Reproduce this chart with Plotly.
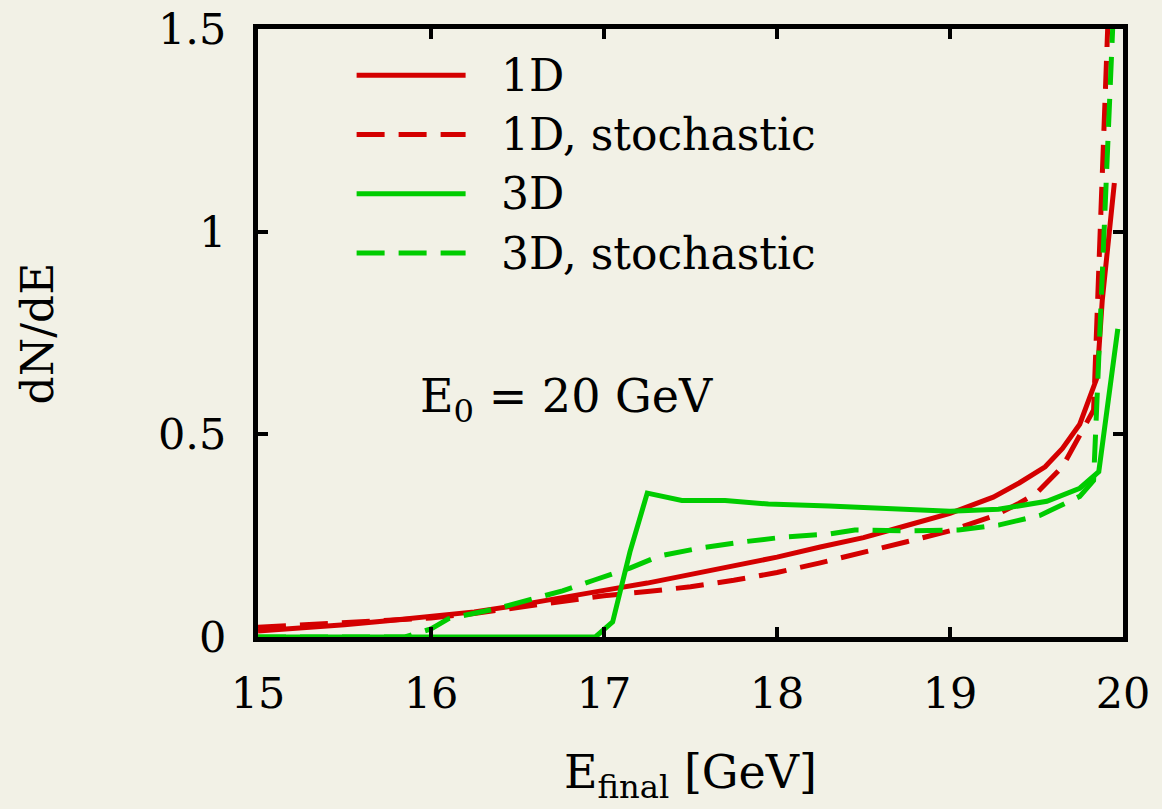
import plotly.graph_objects as go

# ---- data ----
x_1d = [15.0, 15.25, 15.5, 15.75, 16.0, 16.25, 16.5, 16.75, 17.0, 17.25, 17.5, 17.75,
        18.0, 18.25, 18.5, 18.75, 19.0, 19.25, 19.4, 19.55, 19.65, 19.75, 19.85, 19.88, 19.95]
y_1d = [0.015, 0.022, 0.03, 0.04, 0.05, 0.062, 0.078, 0.095, 0.115, 0.133, 0.154, 0.175,
        0.197, 0.222, 0.245, 0.275, 0.305, 0.345, 0.38, 0.42, 0.465, 0.525, 0.64, 0.83, 1.12]

x_1ds = [15.0, 15.25, 15.5, 15.75, 16.0, 16.25, 16.5, 16.75, 17.0, 17.25, 17.5, 17.75,
         18.0, 18.25, 18.5, 18.75, 19.0, 19.25, 19.4, 19.5, 19.65, 19.75, 19.83, 19.92]
y_1ds = [0.024, 0.03, 0.036, 0.042, 0.047, 0.058, 0.072, 0.088, 0.102, 0.112, 0.124, 0.14,
         0.159, 0.183, 0.208, 0.235, 0.262, 0.298, 0.33, 0.355, 0.42, 0.5, 0.56, 1.6]

x_3d = [15.0, 16.95, 17.05, 17.15, 17.25, 17.45, 17.7, 17.95, 18.3, 18.55, 18.8, 19.0,
        19.28, 19.56, 19.75, 19.86, 19.97]
y_3d = [0.0, 0.0, 0.037, 0.21, 0.355, 0.337, 0.337, 0.328, 0.323, 0.318, 0.313, 0.31,
        0.315, 0.335, 0.367, 0.408, 0.76]

x_3ds = [15.0, 15.85, 16.0, 16.1, 16.38, 16.76, 16.94, 17.15, 17.32, 17.56, 17.81, 18.05,
         18.3, 18.45, 18.78, 19.05, 19.28, 19.52, 19.75, 19.83, 19.95]
y_3ds = [0.0, 0.0, 0.02, 0.045, 0.07, 0.114, 0.14, 0.17, 0.2, 0.22, 0.235, 0.247,
         0.254, 0.264, 0.262, 0.264, 0.276, 0.3, 0.347, 0.386, 1.6]

series_names = ["1D", "1D, stochastic", "3D", "3D, stochastic"]
series_colors = ["#d40000", "#d40000", "#00cc00", "#00cc00"]
series_dash = ["solid", "28px,14px", "solid", "28px,14px"]

x_ticks = [15, 16, 17, 18, 19, 20]
y_ticks = [0, 0.5, 1, 1.5]
y_tick_text = ["0", "0.5", "1", "1.5"]

BG = "#f2f1e6"
FONT = "DejaVu Serif"

fig = go.Figure()
for xs, ys, name, col, dash in zip([x_1d, x_1ds, x_3d, x_3ds], [y_1d, y_1ds, y_3d, y_3ds],
                                   series_names, series_colors, series_dash):
    fig.add_trace(go.Scatter(x=xs, y=ys, mode="lines", name=name, showlegend=False,
                             line=dict(color=col, width=5, dash=dash)))

# manual legend (long line samples, like the original)
leg_top = 0.924
leg_step = 0.0975
for i, (name, col, dash) in enumerate(zip(series_names, series_colors, series_dash)):
    yy = leg_top - i * leg_step
    fig.add_shape(type="line", xref="paper", yref="paper", x0=0.114, x1=0.240, y0=yy, y1=yy,
                  line=dict(color=col, width=5, dash=dash))
    fig.add_annotation(xref="paper", yref="paper", x=0.279, y=yy, text=name, showarrow=False,
                       xanchor="left", yanchor="middle", font=dict(family=FONT, size=44, color="black"))

fig.add_annotation(xref="paper", yref="paper", x=0.185, y=0.39, text="E<sub>0</sub> = 20 GeV",
                   showarrow=False, xanchor="left", yanchor="middle",
                   font=dict(family=FONT, size=46, color="black"))

axis_common = dict(showgrid=False, zeroline=False, showline=True, linecolor="black", linewidth=5,
                   mirror="ticks", ticks="inside", ticklen=10, tickwidth=4, tickcolor="black",
                   automargin=False, tickfont=dict(family=FONT, size=43, color="black"))

fig.update_xaxes(range=[15, 20], tickvals=x_ticks, ticklabelstandoff=14, **axis_common)
fig.update_yaxes(range=[0, 1.5], tickvals=y_ticks, ticktext=y_tick_text, ticklabelstandoff=18,
                 **axis_common)

fig.add_annotation(xref="paper", yref="paper", x=0.5, y=-0.227, text="E<sub>final</sub> [GeV]",
                   showarrow=False, xanchor="center", yanchor="middle",
                   font=dict(family=FONT, size=46, color="black"))
fig.add_annotation(xref="paper", yref="paper", x=-0.255, y=0.5, text="dN/dE", textangle=-90,
                   showarrow=False, xanchor="center", yanchor="middle",
                   font=dict(family=FONT, size=44, color="black"))

fig.update_layout(width=1162, height=809, paper_bgcolor=BG, plot_bgcolor=BG,
                  margin=dict(l=258, r=39, t=29, b=172), showlegend=False)

fig.write_html("out.html")
